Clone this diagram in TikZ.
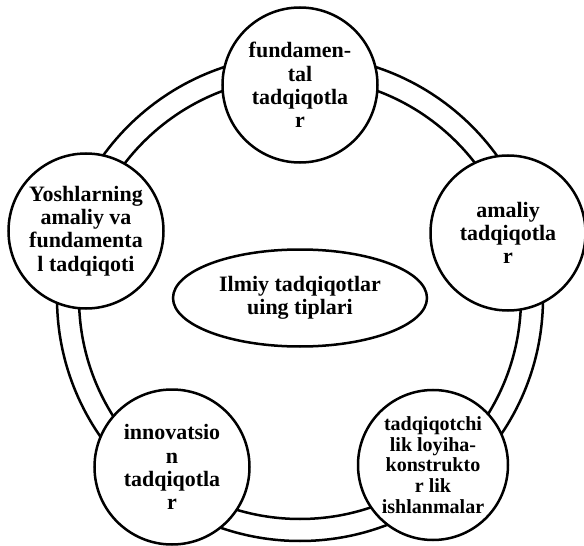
\documentclass[tikz,border=0pt]{standalone}
\usepackage{fontspec}
\setmainfont{Liberation Serif}
\usetikzlibrary{shapes.geometric}

\begin{document}
\begin{tikzpicture}[
		turi/.style={draw, circle, line width=0.5mm, fill=white, minimum size=3.1cm, inner sep=0pt, align=center, font=\fontsize{12.5}{13.2}\selectfont\bfseries},
		markaz/.style={draw, ellipse, line width=0.5mm, minimum width=5.08cm, minimum height=1.94cm, inner sep=0pt, align=center, font=\fontsize{12.5}{13.2}\selectfont\bfseries}
	]
			%%%%% START %%%%%
			
			\useasboundingbox (0, 0) rectangle (11.68, 10.9);
			
			\draw[line width=0.5mm] (6, 4.94) circle (4.86);
			\draw[line width=0.5mm] (6, 4.94) circle (4.42);
			
			\node[turi] (fundamental) at (6, 9.2) {fundamen-\\tal\\tadqiqotla\\r};
			\node[turi] (amaliy) at (10.16, 6.24) {amaliy\\tadqiqotla\\r};
			\node[turi, minimum size=3.0cm, font=\fontsize{11.4}{11.8}\selectfont\bfseries] (loyiha) at (8.66, 1.6) {tadqiqotchi\\lik loyiha-\\konstrukto\\r lik\\ishlanmalar};
			\node[turi] (innovatsion) at (3.44, 1.56) {innovatsio\\n\\tadqiqotla\\r};
			\node[turi] (yoshlar) at (1.72, 6.28) {Yoshlarning\\amaliy va\\fundamenta\\l tadqiqoti};
			
			\node[markaz] (tiplar) at (6, 4.94) {Ilmiy tadqiqotlar\\uing tiplari};
			
			%%%%% END %%%%%
\end{tikzpicture}
\end{document}
